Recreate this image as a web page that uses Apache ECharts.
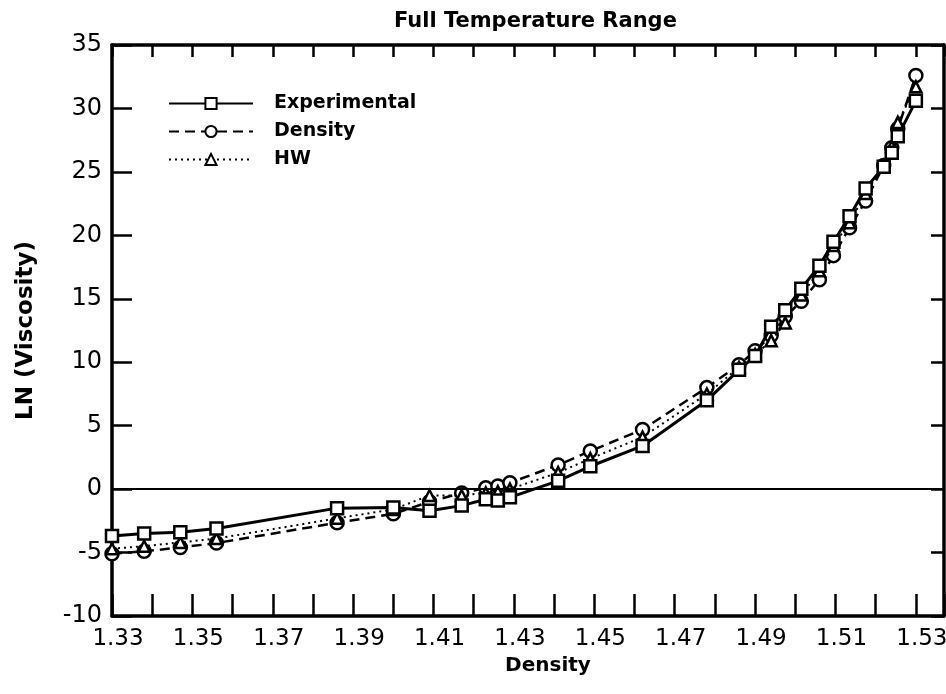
<!DOCTYPE html>
<html>
<head>
<meta charset="utf-8">
<script src="https://cdn.jsdelivr.net/npm/echarts@6/dist/echarts.min.js"></script>
<style>
html,body{margin:0;padding:0;background:#fff;}
#chart{width:946px;height:694px;}
</style>
</head>
<body>
<div id="chart"></div>
<script>
// Data
const densities = [1.330,1.338,1.347,1.356,1.386,1.400,1.409,1.417,1.423,1.426,1.429,1.441,1.449,1.462,1.478,1.486,1.490,1.494,1.4975,1.5015,1.506,1.5095,1.5135,1.5175,1.522,1.524,1.5255,1.530];
const experimental = [-3.7,-3.5,-3.4,-3.1,-1.5,-1.45,-1.7,-1.3,-0.8,-0.9,-0.65,0.65,1.8,3.4,7.0,9.4,10.5,12.8,14.1,15.8,17.6,19.5,21.5,23.7,25.4,26.5,27.8,30.6];
const densityModel = [-5.1,-4.9,-4.6,-4.25,-2.65,-1.95,-1.0,-0.3,0.1,0.25,0.5,1.9,3.0,4.7,8.0,9.8,10.9,12.1,13.6,14.8,16.5,18.4,20.6,22.7,25.5,26.9,28.4,32.6];
const hw = [-4.7,-4.5,-4.2,-3.9,-2.3,-1.6,-0.5,-0.5,-0.3,-0.2,0.0,1.3,2.4,4.1,7.5,9.6,10.6,11.7,13.1,15.3,17.2,19.2,21.0,23.3,25.5,27.0,28.9,31.7];
const seriesNames = ['Experimental','Density','HW'];
const titleText = 'Full Temperature Range';
const xName = 'Density';
const yName = 'LN (Viscosity)';

const pairs = (ys) => densities.map((d, i) => [d, ys[i]]);
const FONT = 'DejaVu Sans';

const chart = echarts.init(document.getElementById('chart'), null, {renderer: 'canvas'});
const axisLineStyle = {color: '#000', width: 3.5};

const option = {
  backgroundColor: '#fff',
  animation: false,
  title: {
    text: titleText,
    left: 389, top: 6,
    textStyle: {fontFamily: FONT, fontSize: 21, fontWeight: 'bold', color: '#000'}
  },
  legend: {
    orient: 'vertical',
    left: 168, top: 94, padding: 0,
    itemWidth: 84, itemHeight: 14, itemGap: 9,
    data: seriesNames,
    textStyle: {fontFamily: FONT, fontSize: 19, fontWeight: 'bold', color: '#000', padding: [0,0,0,16]}
  },
  grid: {left: 112, right: 2, top: 45, bottom: 78, containLabel: false, outerBoundsMode: 'none'},
  xAxis: [{
    type: 'value', min: 1.33, max: 1.537, interval: 0.01,
    position: 'bottom',
    name: xName, nameLocation: 'middle', nameGap: 26,
    nameTextStyle: {fontFamily: FONT, fontSize: 20, fontWeight: 'bold', color: '#000', padding: [0,0,0,40]},
    axisLine: {show: true, onZero: false, lineStyle: axisLineStyle},
    axisTick: {show: true, inside: true, length: 22, lineStyle: {color: '#000', width: 2.5}},
    splitLine: {show: false},
    axisLabel: {
      show: true, margin: 12, fontFamily: FONT, fontSize: 23, color: '#000',
      padding: [0,0,0,12],
      showMinLabel: true, showMaxLabel: true,
      formatter: function (v) {
        const k = Math.round(v * 100);
        if (Math.abs(v * 100 - k) > 1e-4 || k % 2 === 0) return '';
        return (k / 100).toFixed(2);
      }
    }
  }, {
    type: 'value', min: 1.33, max: 1.537, interval: 0.01,
    position: 'top',
    axisLine: {show: true, onZero: false, lineStyle: axisLineStyle},
    axisTick: {show: true, inside: true, length: 12, lineStyle: {color: '#000', width: 2.5}},
    axisLabel: {show: false},
    splitLine: {show: false}
  }],
  yAxis: [{
    type: 'value', min: -10, max: 35, interval: 5,
    position: 'left',
    name: yName, nameLocation: 'middle', nameGap: 74, nameRotate: 90,
    nameTextStyle: {fontFamily: FONT, fontSize: 23, fontWeight: 'bold', color: '#000'},
    axisLine: {show: true, onZero: false, lineStyle: axisLineStyle},
    axisTick: {show: true, inside: true, length: 20, lineStyle: {color: '#000', width: 2.5}},
    axisLabel: {show: true, margin: 10, fontFamily: FONT, fontSize: 24, color: '#000'},
    splitLine: {show: false}
  }, {
    type: 'value', min: -10, max: 35, interval: 5,
    position: 'right',
    axisLine: {show: true, onZero: false, lineStyle: axisLineStyle},
    axisTick: {show: true, inside: true, length: 13, lineStyle: {color: '#000', width: 2.5}},
    axisLabel: {show: false},
    splitLine: {show: false}
  }],
  series: [{
    name: 'Density', type: 'line', data: pairs(densityModel),
    symbol: 'circle', symbolSize: 13,
    lineStyle: {color: '#000', width: 2.5, type: [10, 6]},
    itemStyle: {color: '#fff', borderColor: '#000', borderWidth: 2.5},
    z: 3
  }, {
    name: 'HW', type: 'line', data: pairs(hw),
    symbol: 'triangle', symbolSize: 11,
    lineStyle: {color: '#000', width: 2, type: [2, 4]},
    itemStyle: {color: '#fff', borderColor: '#000', borderWidth: 2.5},
    z: 4
  }, {
    name: 'Experimental', type: 'line', data: pairs(experimental),
    symbol: 'rect', symbolSize: 12,
    lineStyle: {color: '#000', width: 3, type: 'solid'},
    itemStyle: {color: '#fff', borderColor: '#000', borderWidth: 2.5},
    z: 5,
    markLine: {
      silent: true, symbol: 'none', label: {show: false},
      lineStyle: {color: '#000', width: 2, type: 'solid'},
      data: [{yAxis: 0}]
    }
  }]
};
chart.setOption(option);
</script>
</body>
</html>
